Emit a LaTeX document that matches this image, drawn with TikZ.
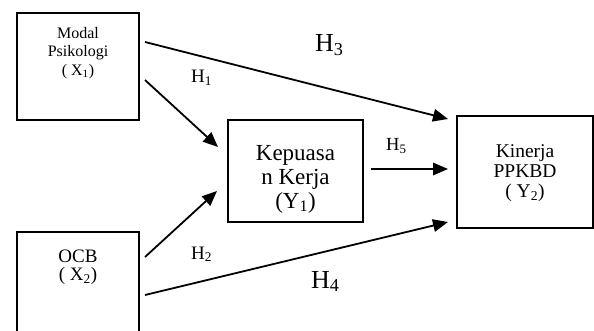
\documentclass[tikz,border=0pt]{standalone}
\usepackage{fontspec}
\setmainfont{Liberation Serif}
\usetikzlibrary{arrows.meta}
\tikzset{
  box/.style={draw, line width=1.4pt, rectangle, inner sep=0pt},
  boxtext/.style={anchor=north, align=center, inner sep=0pt},
  conn/.style={line width=1.8pt, -{Triangle[length=15pt,width=12.5pt]}},
  hsmall/.style={anchor=base west, inner sep=0pt, font=\fontsize{19}{19}\selectfont},
  hbig/.style={anchor=base west, inner sep=0pt, font=\fontsize{26}{26}\selectfont},
}
\begin{document}
\begin{tikzpicture}[x=1pt,y=-1pt]
\useasboundingbox (0,0) rectangle (594,331);
\clip (0,0) rectangle (594,331);
% boxes
\node[box, minimum width=122pt, minimum height=107pt] (x1) at (78,66.5) {};
\node[box, minimum width=122pt, minimum height=110pt] (x2) at (78,287) {};
\node[box, minimum width=135pt, minimum height=102pt] (y1) at (295.5,171) {};
\node[box, minimum width=136pt, minimum height=112pt] (y2) at (525,172) {};
% box texts
\node[boxtext, font=\fontsize{16}{18.5}\selectfont] (t1) at (78,27) {Modal\\Psikologi\\( X\textsubscript{1})};
\node[boxtext, font=\fontsize{19}{18.5}\selectfont] (t2) at (78,249.5) {OCB\\( X\textsubscript{2})};
\node[boxtext, font=\fontsize{23}{24}\selectfont] (t3) at (295.5,145) {Kepuasa\\n Kerja\\(Y\textsubscript{1})};
\node[boxtext, font=\fontsize{19.5}{20}\selectfont] (t4) at (525,144) {Kinerja\\PPKBD\\( Y\textsubscript{2})};
% connector end points
\coordinate (a3s) at (145,42);  \coordinate (a3e) at (448,119);
\coordinate (a1s) at (145,80);  \coordinate (a1e) at (218,147);
\coordinate (a2s) at (145,257); \coordinate (a2e) at (217,191);
\coordinate (a4s) at (145,295); \coordinate (a4e) at (448,222);
\coordinate (a5s) at (371,169); \coordinate (a5e) at (448,169);
\draw[conn] (a3s) -- (a3e);
\draw[conn] (a1s) -- (a1e);
\draw[conn] (a2s) -- (a2e);
\draw[conn] (a4s) -- (a4e);
\draw[conn] (a5s) -- (a5e);
% labels
\node[hbig] (h3) at (315,52) {H\textsubscript{3}};
\node[hsmall] (h1) at (191,83) {H\textsubscript{1}};
\node[hsmall] (h2) at (191,259) {H\textsubscript{2}};
\node[hbig] (h4) at (311,288) {H\textsubscript{4}};
\node[hsmall, font=\fontsize{18.5}{18.5}\selectfont] (h5) at (386,151) {H\textsubscript{5}};
\end{tikzpicture}
\end{document}
